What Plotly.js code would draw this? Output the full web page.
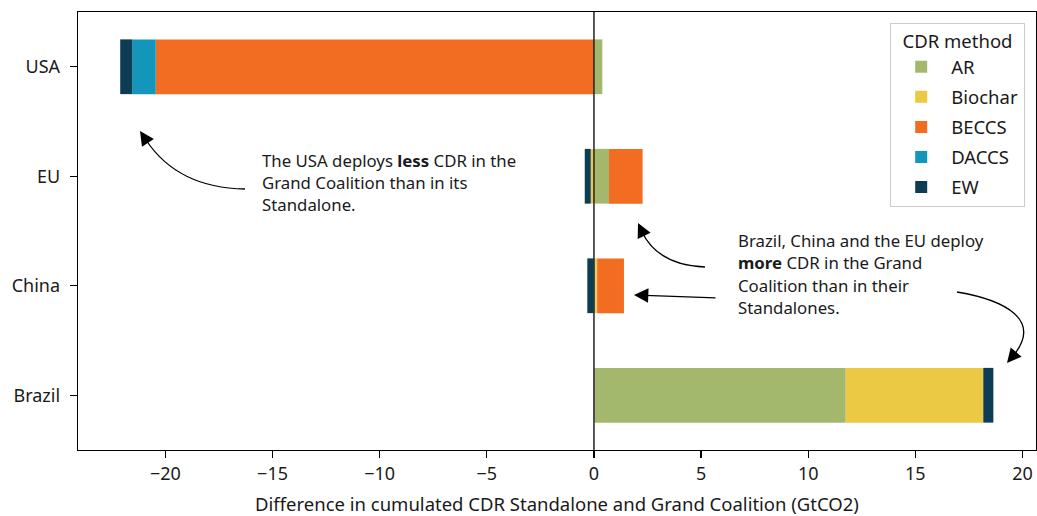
<!DOCTYPE html>
<html>
<head>
<meta charset="utf-8">
<script src="https://cdn.plot.ly/plotly-3.0.1.min.js"></script>
<style>html,body{margin:0;padding:0;background:#fff;}#chart{width:1037px;height:516px;}</style>
</head>
<body>
<div id="chart"></div>
<script>
// ---- data ----
const countries = ['USA', 'EU', 'China', 'Brazil'];
const methods = ['AR', 'Biochar', 'BECCS', 'DACCS', 'EW'];
const AR      = [0.39,  0.70,  0.07, 11.75];
const Biochar = [0.00, -0.15,  0.08,  6.42];
const BECCS   = [-20.45, 1.57, 1.25,  0.00];
const DACCS   = [-1.10,  0.00, -0.04, 0.00];
const EW      = [-0.56, -0.28, -0.27, 0.47];
const seriesValues = [AR, Biochar, BECCS, DACCS, EW];
const colors = ['#a3b86c', '#ebc944', '#f26d21', '#1496bb', '#0d3c55'];
const xTickVals = [-20, -15, -10, -5, 0, 5, 10, 15, 20];
const xTickText = ['\u221220', '\u221215', '\u221210', '\u22125', '0', '5', '10', '15', '20'];

const FONT = '"Noto Sans", "Open Sans", sans-serif';
const TXT = '#1a1a1a';

const traces = methods.map((m, i) => ({
  type: 'bar',
  orientation: 'h',
  name: m,
  legendgroup: m,
  x: seriesValues[i],
  y: countries,
  width: 0.5,
  marker: {color: colors[i], line: {width: 0}},
  hoverinfo: 'x+y+name'
}));

// plot-area pixel helpers (margins l=78, t=12, w=958, h=438)
const PX = x => (x - 78) / 958;
const PY = y => (450 - y) / 438;

function curve(d) { return {type: 'path', xref: 'paper', yref: 'paper', path: d, line: {color: '#000', width: 1.3}, layer: 'above'}; }

const shapes = [
  {type: 'line', xref: 'x', yref: 'paper', x0: 0, x1: 0, y0: 0, y1: 1, line: {color: '#222', width: 1.5}, layer: 'above'},
  // USA arrow
  curve(`M${PX(245)},${PY(189)} Q${PX(178)},${PY(188)} ${PX(146)},${PY(140)}`),
  // EU arrow
  curve(`M${PX(705)},${PY(267)} Q${PX(658)},${PY(265)} ${PX(642)},${PY(232)}`),
  // Brazil arrow
  curve(`M${PX(957)},${PY(292)} C${PX(1005)},${PY(300)} ${PX(1043)},${PY(320)} ${PX(1013)},${PY(356)}`)
];

function head(tx, ty, dx, dy) {
  const L = Math.hypot(dx, dy), k = 14 / L;
  return {xref: 'paper', yref: 'paper', x: PX(tx), y: PY(ty), text: '', showarrow: true,
          arrowhead: 2, arrowsize: 2.2, arrowwidth: 1.3, arrowcolor: '#000',
          ax: -dx * k, ay: -dy * k, standoff: 0};
}

function line(txt, x, y) {
  return {xref: 'paper', yref: 'paper', x: PX(x), y: PY(y), xanchor: 'left', yanchor: 'middle',
          text: txt, showarrow: false, font: {family: FONT, size: 16.8, color: TXT}};
}

const annotations = [
  line('The USA deploys <b>less</b> CDR in the', 260, 160),
  line('Grand Coalition than in its', 260, 182.5),
  line('Standalone.', 260, 205),
  line('Brazil, China and the EU deploy', 736, 240),
  line('<b>more</b> CDR in the Grand', 736, 262.5),
  line('Coalition than in their', 736, 285),
  line('Standalones.', 736, 307.5),
  head(140, 131, -38, -57),
  head(638, 223, -20, -42),
  head(1007, 363, -36, 43),
  {xref: 'paper', yref: 'paper', x: PX(634), y: PY(295), text: '', showarrow: true,
   arrowhead: 2, arrowsize: 2.2, arrowwidth: 1.3, arrowcolor: '#000', ax: 83, ay: 3, standoff: 0}
];

const layout = {
  width: 1037, height: 516,
  margin: {l: 78, r: 1, t: 12, b: 66},
  barmode: 'relative',
  paper_bgcolor: '#fff', plot_bgcolor: '#fff',
  font: {family: FONT, size: 18, color: TXT},
  xaxis: {
    range: [-24.08, 20.63], showgrid: false, zeroline: false,
    tickvals: xTickVals, ticktext: xTickText,
    ticks: 'outside', ticklen: 7, tickwidth: 1.3, tickcolor: '#000',
    showline: true, linecolor: '#000', linewidth: 1.3, mirror: true,
    tickfont: {family: FONT, size: 18, color: TXT},
    title: {text: 'Difference in cumulated CDR Standalone and Grand Coalition (GtCO2)', font: {family: FONT, size: 18.5, color: TXT}, standoff: 16},
    automargin: false
  },
  yaxis: {
    type: 'category', categoryorder: 'array', categoryarray: countries,
    range: [3.5, -0.5], showgrid: false, zeroline: false,
    ticks: 'outside', ticklen: 7, tickwidth: 1.3, tickcolor: '#000',
    showline: true, linecolor: '#000', linewidth: 1.3, mirror: true,
    tickfont: {family: FONT, size: 18, color: TXT},
    ticklabelstandoff: 6,
    automargin: false
  },
  legend: {
    x: PX(890), y: PY(23), xanchor: 'left', yanchor: 'top',
    bgcolor: '#fff', bordercolor: '#cccccc', borderwidth: 1.2,
    font: {family: FONT, size: 18.5, color: TXT},
    title: {text: 'CDR method', side: 'top center', font: {family: FONT, size: 18.5, color: TXT}},
    tracegroupgap: 3, traceorder: 'grouped', itemwidth: 50
  },
  showlegend: true,
  shapes: shapes,
  annotations: annotations
};

Plotly.newPlot('chart', traces, layout, {displayModeBar: false, staticPlot: true});
</script>
</body>
</html>
